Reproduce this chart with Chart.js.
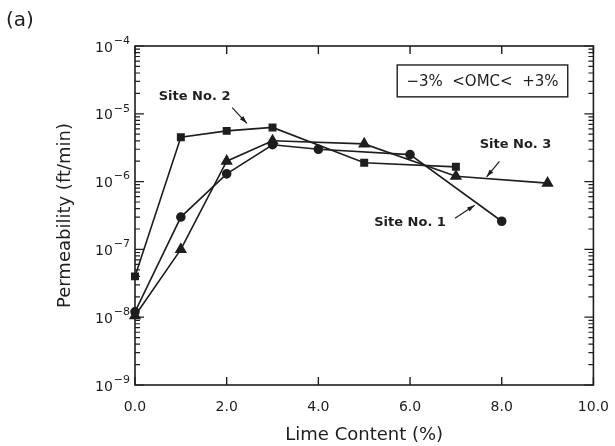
<!DOCTYPE html>
<html>
<head>
<meta charset="utf-8">
<script src="https://cdn.jsdelivr.net/npm/chart.js@4.4.1/dist/chart.umd.min.js"></script>
<style>
  html, body { margin: 0; padding: 0; background: #fff; }
  #wrap { position: relative; width: 615px; height: 446px; }
</style>
</head>
<body>
<div id="wrap"><canvas id="chart" width="615" height="446"></canvas></div>
<script>
// Lime content (%) and permeability (ft/min)
const site1X = [0, 1, 2, 3, 4, 6, 8];
const site1Y = [1.2e-8, 3.0e-7, 1.3e-6, 3.5e-6, 3.0e-6, 2.5e-6, 2.6e-7];

const site2X = [0, 1, 2, 3, 5, 7];
const site2Y = [4.0e-8, 4.5e-6, 5.6e-6, 6.3e-6, 1.9e-6, 1.65e-6];

const site3X = [0, 1, 2, 3, 5, 7, 9];
const site3Y = [1.05e-8, 1.0e-7, 2.0e-6, 4.0e-6, 3.6e-6, 1.2e-6, 9.5e-7];

const xTicks = [0, 2, 4, 6, 8, 10];
const yExponents = [-9, -8, -7, -6, -5, -4];

const ink = '#1e1e1e';
const font = '"DejaVu Sans", sans-serif';

function toPoints(xs, ys) {
    return xs.map((x, i) => ({ x: x, y: ys[i] }));
}

function series(label, xs, ys, style, radius) {
    return {
        label: label,
        data: toPoints(xs, ys),
        showLine: true,
        clip: false,
        borderColor: ink,
        borderWidth: 1.6,
        backgroundColor: ink,
        pointStyle: style,
        pointRadius: radius,
        pointBorderColor: ink,
        pointBackgroundColor: ink,
        tension: 0
    };
}

// annotations in data coordinates
const labels = [
    { text: 'Site No. 2', x: 1.3, y: 1.8e-5, from: [2.12, -4.91], to: [2.44, -5.14] },
    { text: 'Site No. 3', x: 8.3, y: 3.5e-6, from: [7.95, -5.70], to: [7.67, -5.93] },
    { text: 'Site No. 1', x: 6.0, y: 2.5e-7, from: [6.98, -6.54], to: [7.41, -6.35] }
];

const framePlugin = {
    id: 'frame',
    afterDatasetsDraw(chart) {
        const ctx = chart.ctx;
        const a = chart.chartArea;
        const xs = chart.scales.x;
        const ys = chart.scales.y;
        ctx.save();
        ctx.strokeStyle = ink;
        ctx.lineWidth = 1.6;
        ctx.strokeRect(a.left, a.top, a.right - a.left, a.bottom - a.top);

        // x ticks, inward on bottom and top
        ctx.lineWidth = 1.4;
        xTicks.forEach(v => {
            const px = xs.getPixelForValue(v);
            ctx.beginPath();
            ctx.moveTo(px, a.bottom); ctx.lineTo(px, a.bottom - 8);
            ctx.moveTo(px, a.top); ctx.lineTo(px, a.top + 8);
            ctx.stroke();
        });

        // y ticks, major and minor, inward on left and right
        ctx.lineWidth = 1.2;
        yExponents.forEach(e => {
            for (let k = 1; k <= 9; k++) {
                const v = k * Math.pow(10, e);
                if (v > 1e-4 * 1.0001) break;
                const py = ys.getPixelForValue(v);
                const len = k === 1 ? 9 : 5;
                ctx.beginPath();
                ctx.moveTo(a.left, py); ctx.lineTo(a.left + len, py);
                ctx.moveTo(a.right, py); ctx.lineTo(a.right - len, py);
                ctx.stroke();
            }
        });

        // y tick labels 10^n
        ctx.fillStyle = ink;
        ctx.textBaseline = 'middle';
        yExponents.forEach(e => {
            const py = ys.getPixelForValue(Math.pow(10, e));
            ctx.textAlign = 'left';
            const base = '10';
            const exp = '\u2212' + Math.abs(e);
            ctx.font = '11px ' + font;
            const ew = ctx.measureText(exp).width;
            ctx.font = '14px ' + font;
            const bw = ctx.measureText(base).width;
            const x0 = a.left - 6 - ew - bw;
            ctx.fillText(base, x0, py + 2);
            ctx.font = '11px ' + font;
            ctx.fillText(exp, x0 + bw + 1, py - 5);
        });

        // site labels with arrows
        ctx.font = 'bold 13px ' + font;
        ctx.textAlign = 'center';
        labels.forEach(l => {
            ctx.fillText(l.text, xs.getPixelForValue(l.x), ys.getPixelForValue(l.y));
            const x1 = xs.getPixelForValue(l.from[0]);
            const y1 = ys.getPixelForValue(Math.pow(10, l.from[1]));
            const x2 = xs.getPixelForValue(l.to[0]);
            const y2 = ys.getPixelForValue(Math.pow(10, l.to[1]));
            ctx.lineWidth = 1.2;
            ctx.beginPath();
            ctx.moveTo(x1, y1); ctx.lineTo(x2, y2);
            ctx.stroke();
            const ang = Math.atan2(y2 - y1, x2 - x1);
            ctx.beginPath();
            ctx.moveTo(x2, y2);
            ctx.lineTo(x2 - 8 * Math.cos(ang - 0.3), y2 - 8 * Math.sin(ang - 0.3));
            ctx.lineTo(x2 - 8 * Math.cos(ang + 0.3), y2 - 8 * Math.sin(ang + 0.3));
            ctx.closePath();
            ctx.fill();
        });

        // moisture range box
        const bx1 = xs.getPixelForValue(5.72), bx2 = xs.getPixelForValue(9.44);
        const by1 = ys.getPixelForValue(Math.pow(10, -4.28)), by2 = ys.getPixelForValue(Math.pow(10, -4.75));
        ctx.lineWidth = 1.4;
        ctx.strokeRect(bx1, by1, bx2 - bx1, by2 - by1);
        ctx.font = '15px ' + font;
        ctx.fillText('\u22123%  <OMC<  +3%', (bx1 + bx2) / 2, (by1 + by2) / 2 + 1);

        // panel letter
        ctx.textAlign = 'left';
        ctx.font = '20px ' + font;
        ctx.fillText('(a)', 6, 21);
        ctx.restore();
    }
};

const ctx = document.getElementById('chart').getContext('2d');
const chart = new Chart(ctx, {
    type: 'scatter',
    data: {
        datasets: [
            series('Site No. 1', site1X, site1Y, 'circle', 4),
            series('Site No. 2', site2X, site2Y, 'rect', 4.5),
            series('Site No. 3', site3X, site3Y, 'triangle', 5.5)
        ]
    },
    options: {
        responsive: false,
        animation: false,
        layout: { padding: { left: 55, right: 17, top: 46, bottom: 0 } },
        plugins: {
            legend: { display: false },
            tooltip: { enabled: false }
        },
        scales: {
            x: {
                type: 'linear',
                min: 0,
                max: 10,
                afterBuildTicks: scale => { scale.ticks = xTicks.map(v => ({ value: v })); },
                afterFit: scale => { scale.height = 61; },
                grid: { display: false },
                border: { display: false },
                ticks: {
                    color: ink,
                    padding: 6,
                    font: { family: font, size: 14 },
                    callback: v => v.toFixed(1)
                },
                title: {
                    display: true,
                    text: 'Lime Content (%)',
                    color: ink,
                    font: { family: font, size: 18 },
                    padding: { top: 4, bottom: 0 }
                }
            },
            y: {
                type: 'logarithmic',
                min: 1e-9,
                max: 1e-4,
                afterFit: scale => { scale.width = 80; },
                grid: { display: false },
                border: { display: false },
                ticks: { display: false },
                title: {
                    display: true,
                    text: 'Permeability (ft/min)',
                    color: ink,
                    font: { family: font, size: 18 },
                    padding: { top: 0, bottom: 0 }
                }
            }
        }
    },
    plugins: [framePlugin]
});
</script>
</body>
</html>
